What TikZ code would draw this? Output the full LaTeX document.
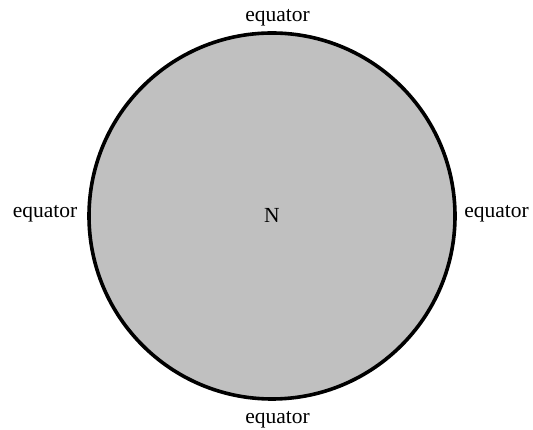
\documentclass[tikz,border=0pt]{standalone}
\usepackage{fontspec}
\setmainfont{Liberation Serif}
\begin{document}
\begin{tikzpicture}[x=1pt,y=-1pt,
  lbl/.style={anchor=base,inner sep=0pt,font=\fontsize{21.5}{24}\selectfont},
  globe/.style={circle,draw=black,line width=3.6pt,fill={rgb,255:red,192;green,192;blue,192},minimum size=366pt,inner sep=0pt}]
\useasboundingbox (0,0) rectangle (533,430);
\node[globe] (g) at (272,216) {};
\node[lbl] (n) at (272,223) {N};
\node[lbl] (top) at (277.5,22) {equator};
\node[lbl] (bot) at (277.5,423) {equator};
\node[lbl] (lft) at (45,218) {equator};
\node[lbl] (rgt) at (496.5,218) {equator};
\end{tikzpicture}
\end{document}
